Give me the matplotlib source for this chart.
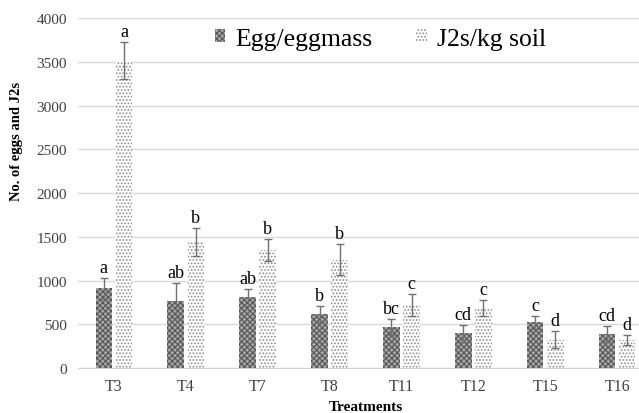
import numpy as np
import matplotlib.pyplot as plt
from matplotlib.patches import Patch

plt.rcParams['font.family'] = ['Liberation Serif', 'DejaVu Serif']
plt.rcParams['hatch.linewidth'] = 0.8

treatments = ['T3', 'T4', 'T7', 'T8', 'T11', 'T12', 'T15', 'T16']
egg = [910, 770, 808, 614, 465, 396, 522, 392]
egg_err = [118, 198, 95, 90, 90, 95, 76, 85]
egg_letters = ['a', 'ab', 'ab', 'b', 'bc', 'cd', 'c', 'cd']
j2 = [3512, 1436, 1349, 1238, 720, 686, 324, 320]
j2_err = [210, 160, 125, 180, 122, 88, 95, 57]
j2_letters = ['a', 'b', 'b', 'b', 'c', 'c', 'd', 'd']

x = np.arange(len(treatments))
w = 0.23
off = 0.14

fig = plt.figure(figsize=(6.39, 4.14), dpi=100)
ax = fig.add_axes([0.122, 0.1087, 0.90, 0.845])

egg_face, egg_hatch = '#a8a8a8', '#555555'
b1 = ax.bar(x - off, egg, w, color=egg_face, edgecolor=egg_hatch, hatch='xxxxxx',
            linewidth=0, zorder=2)
b2 = ax.bar(x + off, j2, w, color='white', edgecolor='#8a8a8a', hatch='.....',
            linewidth=0, zorder=2)
ax.errorbar(x - off, egg, yerr=egg_err, fmt='none', ecolor='#707070',
            elinewidth=1, capsize=3, capthick=1, zorder=3)
ax.errorbar(x + off, j2, yerr=j2_err, fmt='none', ecolor='#707070',
            elinewidth=1, capsize=3, capthick=1, zorder=3)

for i in range(len(x)):
    ax.text(x[i] - off, egg[i] + egg_err[i] + 25, egg_letters[i],
            ha='center', va='bottom', fontsize=13)
    ax.text(x[i] + off, j2[i] + j2_err[i] + 25, j2_letters[i],
            ha='center', va='bottom', fontsize=13)

ax.set_xlim(-0.5, len(x) - 0.5)
ax.set_ylim(0, 4000)
ax.set_yticks(range(0, 4001, 500))
ax.set_xticks(x)
ax.set_xticklabels(treatments)
ax.tick_params(axis='y', length=0, labelsize=11, colors='#404040', pad=8)
ax.tick_params(axis='x', length=0, labelsize=11.5, colors='#404040', pad=7)
ax.grid(axis='y', color='#d9d9d9', linewidth=1, zorder=0)
ax.set_axisbelow(True)
for s in ['top', 'right', 'left']:
    ax.spines[s].set_visible(False)
ax.spines['bottom'].set_color('#d0d0d0')

ax.set_ylabel('No. of eggs and J2s', fontsize=10.5, fontweight='bold', va='center')
ax.yaxis.set_label_coords(-0.106, 0.651)
ax.set_xlabel('Treatments', fontsize=11, fontweight='bold', va='center')
ax.xaxis.set_label_coords((366 - 78) / 575, -0.111)

handles = [Patch(facecolor=egg_face, edgecolor=egg_hatch, hatch='xxxxxx', linewidth=0),
           Patch(facecolor='white', edgecolor='#8a8a8a', hatch='.....', linewidth=0)]
fig.legend(handles, ['Egg/eggmass', 'J2s/kg soil'], loc='center left',
           bbox_to_anchor=(215 / 639, 1 - 40 / 414), ncol=2, frameon=False,
           fontsize=18.5, borderpad=0, borderaxespad=0,
           handlelength=0.4, handleheight=0.4, handletextpad=0.4, columnspacing=1.7)

fig.savefig('out.png', dpi=100)
